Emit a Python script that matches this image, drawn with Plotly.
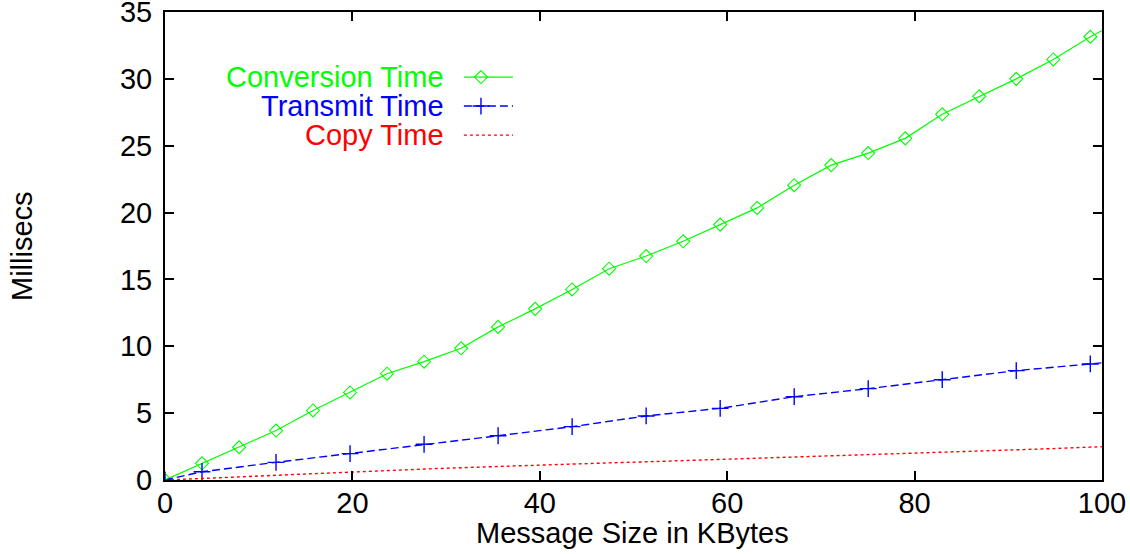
import plotly.graph_objects as go

# ---- data ----
size_kb = [0, 3.95, 7.9, 11.85, 15.8, 19.75, 23.7, 27.65, 31.6, 35.55, 39.5, 43.45,
           47.4, 51.35, 55.3, 59.25, 63.2, 67.15, 71.1, 75.05, 79.0, 82.95, 86.9,
           90.85, 94.8, 98.75, 102.7]
conversion_ms = [0, 1.25, 2.45, 3.7, 5.2, 6.55, 7.95, 8.85, 9.85, 11.45, 12.8, 14.25,
                 15.8, 16.75, 17.85, 19.1, 20.35, 22.05, 23.55, 24.45, 25.55, 27.35,
                 28.7, 30.0, 31.45, 33.15, 34.6]

transmit_kb = [0, 3.95, 11.85, 19.75, 27.65, 35.55, 43.45, 51.35, 59.25, 67.15,
               75.05, 82.95, 90.85, 98.75, 106.65]
transmit_ms = [0, 0.62, 1.32, 1.97, 2.67, 3.31, 3.99, 4.79, 5.36, 6.23, 6.83,
               7.50, 8.18, 8.68, 9.2]

copy_ms = [0, 0.12, 0.25, 0.37, 0.5, 0.62, 0.72, 0.82, 0.92, 1.02, 1.1, 1.2, 1.28,
           1.36, 1.45, 1.53, 1.61, 1.7, 1.78, 1.86, 1.95, 2.04, 2.14, 2.24, 2.35,
           2.46, 2.57]

x_ticks = [0, 20, 40, 60, 80, 100]
y_ticks = [0, 5, 10, 15, 20, 25, 30, 35]

series_names = ["Conversion Time", "Transmit Time", "Copy Time"]
x_title = "Message Size in KBytes"
y_title = "Millisecs"

GREEN = "#00ff00"
BLUE = "#0000ff"
RED = "#ff0000"
FONT = "Liberation Sans, Arial, Helvetica, sans-serif"
FS = 29

fig = go.Figure()

fig.add_trace(go.Scatter(
    x=size_kb, y=conversion_ms, mode="lines+markers", name=series_names[0],
    line=dict(color=GREEN, width=1.2),
    marker=dict(symbol="diamond-open", size=10, color=GREEN, line=dict(width=1.1, color=GREEN)),
    showlegend=False))
fig.add_trace(go.Scatter(
    x=transmit_kb, y=transmit_ms, mode="lines+markers", name=series_names[1],
    line=dict(color=BLUE, width=1.4, dash="8px,4px"),
    marker=dict(symbol="cross-thin-open", size=12, color=BLUE, line=dict(width=1.4, color=BLUE)),
    showlegend=False))
fig.add_trace(go.Scatter(
    x=size_kb, y=copy_ms, mode="lines", name=series_names[2],
    line=dict(color=RED, width=1.4, dash="3px,3px"),
    showlegend=False))

# ---- gnuplot-style key (text left, sample right) on an overlay axis ----
key_y = [0.861, 0.799, 0.737]
key_text_x = 0.300
key_line_x = [0.319, 0.3714]
key_mark_x = 0.3372
styles = [
    dict(line=dict(color=GREEN, width=1.2), marker=dict(symbol="diamond-open", size=10, color=GREEN, line=dict(width=1.1, color=GREEN))),
    dict(line=dict(color=BLUE, width=1.4, dash="8px,4px"), marker=dict(symbol="cross-thin-open", size=12, color=BLUE, line=dict(width=1.4, color=BLUE))),
    dict(line=dict(color=RED, width=1.4, dash="3px,3px")),
]
colors = [GREEN, BLUE, RED]
for i, name in enumerate(series_names):
    fig.add_trace(go.Scatter(x=key_line_x, y=[key_y[i]] * 2, mode="lines",
                             line=styles[i]["line"], xaxis="x2", yaxis="y2",
                             showlegend=False, hoverinfo="skip"))
    if "marker" in styles[i]:
        fig.add_trace(go.Scatter(x=[key_mark_x], y=[key_y[i]], mode="markers",
                                 marker=styles[i]["marker"], xaxis="x2", yaxis="y2",
                                 showlegend=False, hoverinfo="skip"))
    fig.add_annotation(x=key_text_x, y=key_y[i], xref="paper", yref="paper",
                       text=name, showarrow=False, xanchor="right", yanchor="middle",
                       font=dict(family=FONT, size=FS, color=colors[i]))

# axis titles
fig.add_annotation(x=0.4986, y=-0.113, xref="paper", yref="paper", text=x_title,
                   showarrow=False, xanchor="center", yanchor="middle",
                   font=dict(family=FONT, size=FS, color="black"))
fig.add_annotation(x=-0.1526, y=0.5, xref="paper", yref="paper", text=y_title,
                   showarrow=False, xanchor="center", yanchor="middle", textangle=-90,
                   font=dict(family=FONT, size=FS, color="black"))

axis_common = dict(showline=True, linecolor="black", linewidth=2, mirror="ticks",
                   ticks="inside", ticklen=9, tickwidth=1.5, tickcolor="black",
                   showgrid=False, zeroline=False, automargin=False,
                   ticklabeloverflow="allow",
                   tickfont=dict(family=FONT, size=FS, color="black"))

fig.update_layout(
    width=1130, height=554,
    margin=dict(l=165, r=28, t=12, b=74, pad=0),
    paper_bgcolor="white", plot_bgcolor="white",
    xaxis=dict(range=[0, 100], tickvals=x_ticks, ticklabelstandoff=-4, **axis_common),
    yaxis=dict(range=[0, 35], tickvals=y_ticks, ticklabelstandoff=5, **axis_common),
    xaxis2=dict(range=[0, 1], overlaying="x", visible=False, fixedrange=True),
    yaxis2=dict(range=[0, 1], overlaying="y", visible=False, fixedrange=True),
    showlegend=False,
)

fig.write_html("out.html", config={"displayModeBar": False},
               post_script="document.body.style.margin='0';document.body.style.overflow='hidden';")
